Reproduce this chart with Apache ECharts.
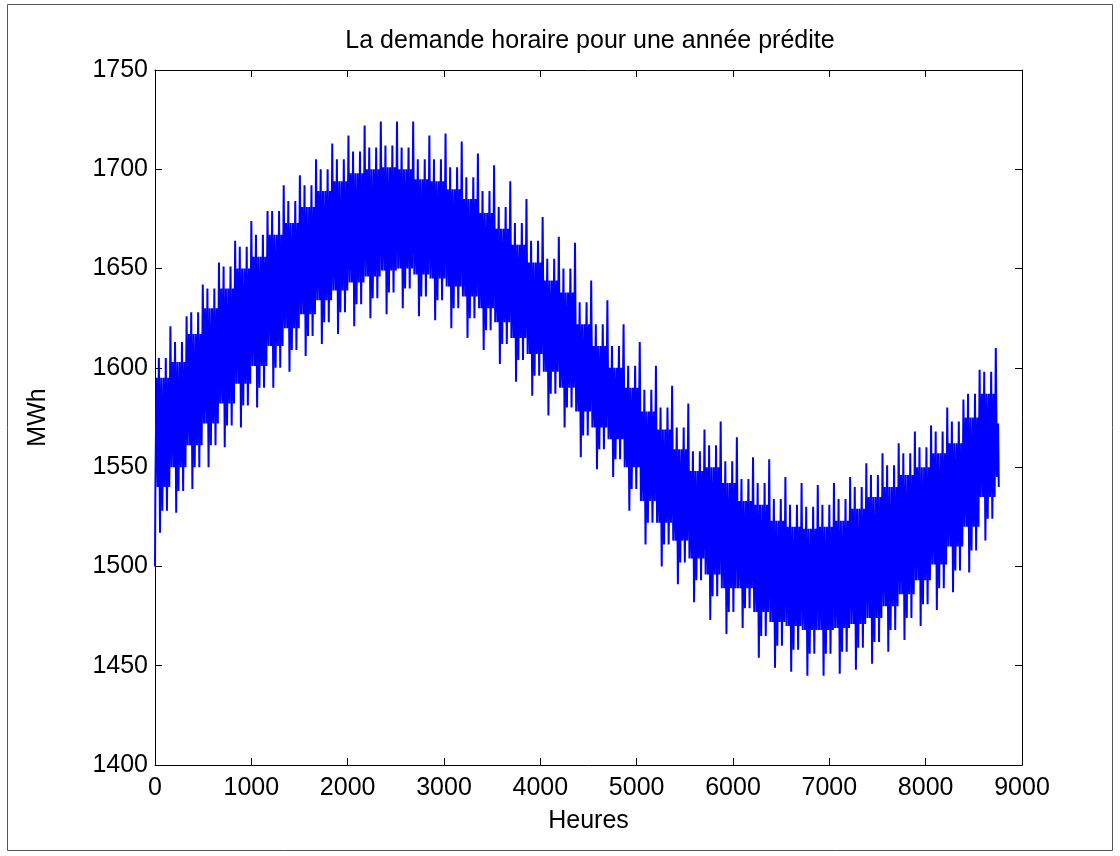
<!DOCTYPE html>
<html>
<head>
<meta charset="utf-8">
<script src="https://cdn.jsdelivr.net/npm/echarts@6/dist/echarts.min.js"></script>
<style>
html,body{margin:0;padding:0;background:#fff;}
#chart{width:1120px;height:856px;}
</style>
</head>
<body>
<div id="chart"></div>
<script>
// ---- Data (MWh), one entry per week ----
const titleText = 'La demande horaire pour une année prédite';
const xName = 'Heures';
const yName = 'MWh';
const xTickValues = [0, 1000, 2000, 3000, 4000, 5000, 6000, 7000, 8000, 9000];
const yTickValues = [1400, 1450, 1500, 1550, 1600, 1650, 1700, 1750];

const startValue = 1500;           // first hour
// weekly highest spike
const weekPeak = [1621,1626,1642,1653,1664,1674,1679,1692,1697,1705,1713,1717,1722,1724,1724,1724,1717,1718,1714,1708,1702,1694,1685,1676,1666,1663,1644,1634,1622,1613,1601,1591,1582,1569,1573,1565,1555,1554,1545,1542,1541,1542,1545,1552,1557,1562,1568,1571,1580,1584,1599,1610];
// weekly secondary high spike
const weekHigh2 = [1605,1613,1628,1640,1651,1661,1667,1679,1684,1692,1700,1705,1709,1711,1712,1711,1705,1705,1701,1696,1689,1681,1673,1664,1655,1650,1633,1622,1611,1601,1589,1580,1570,1558,1561,1553,1544,1542,1534,1531,1530,1531,1534,1540,1546,1551,1557,1560,1568,1573,1587,1598];
// weekly usual daily high
const weekHigh = [1595,1603,1617,1630,1640,1650,1656,1667,1673,1681,1689,1694,1698,1700,1701,1700,1695,1694,1690,1685,1678,1670,1662,1653,1644,1638,1622,1611,1600,1590,1578,1569,1559,1548,1550,1542,1533,1531,1523,1520,1519,1520,1523,1529,1535,1540,1546,1550,1557,1562,1575,1587];
// weekly usual daily low
const weekLow = [1540,1550,1561,1572,1582,1592,1601,1611,1620,1627,1634,1639,1643,1646,1649,1650,1647,1645,1641,1636,1630,1623,1615,1607,1598,1590,1578,1570,1564,1550,1533,1522,1513,1504,1496,1489,1489,1477,1472,1470,1468,1468,1469,1471,1474,1480,1486,1493,1501,1510,1520,1535];
// weekly secondary low
const weekLow2 = [1528,1538,1550,1561,1571,1581,1590,1600,1609,1616,1623,1628,1632,1635,1638,1640,1636,1634,1630,1625,1619,1612,1604,1596,1587,1580,1566,1559,1554,1539,1522,1511,1502,1493,1485,1477,1479,1465,1460,1458,1456,1456,1457,1459,1462,1468,1474,1481,1489,1498,1508,1524];
// weekly deepest trough
const weekTrough = [1517,1527,1539,1550,1560,1570,1580,1590,1598,1606,1612,1617,1621,1625,1627,1630,1626,1624,1620,1615,1609,1602,1593,1586,1576,1570,1555,1549,1545,1528,1511,1500,1491,1482,1473,1466,1469,1454,1449,1447,1445,1445,1446,1448,1451,1457,1463,1470,1478,1487,1497,1513];
// last partial day
const tailHours = [8740, 8752, 8759];
const tailValues = [1545, 1572, 1540];

// ---- Which weekly reading each day of the week uses ----
const dayHighs = [weekHigh, weekHigh2, weekHigh, weekHigh, weekHigh2, weekHigh, weekPeak];
const dayLows  = [weekLow, weekLow, weekTrough, weekLow2, weekLow, weekLow2, weekLow];

const series = [[0, startValue]];
for (let k = 0; k < weekPeak.length; k++) {
  for (let d = 0; d < 7; d++) {
    const base = 168 * k + 24 * d;
    series.push([base + 4, dayLows[d][k]]);
    series.push([base + 16, dayHighs[d][k]]);
  }
}
tailHours.forEach((h, i) => series.push([h, tailValues[i]]));

const FONT = "'Liberation Sans', Arial, Helvetica, sans-serif";
const FS = 25;

const chart = echarts.init(document.getElementById('chart'), null, {renderer: 'canvas'});

const baseAxisLine = {show: true, onZero: false, lineStyle: {color: '#000', width: 1}};
const baseTick = {show: true, inside: true, length: 7, lineStyle: {color: '#000', width: 1}};
const plain = v => String(v);

chart.setOption({
  animation: false,
  backgroundColor: '#ffffff',
  grid: {left: 155, right: 98, top: 70, bottom: 91, containLabel: false},
  graphic: [
    {type: 'rect', shape: {x: 7.5, y: 4.5, width: 1105, height: 846},
     style: {fill: 'none', stroke: '#555', lineWidth: 1}, silent: true},
    {type: 'text', x: 590, y: 41,
     style: {text: titleText, fill: '#000', font: FS + 'px ' + FONT, textAlign: 'center', textVerticalAlign: 'middle'}}
  ],
  xAxis: [
    {
      type: 'value', min: xTickValues[0], max: xTickValues[xTickValues.length - 1], interval: 1000,
      position: 'bottom',
      axisLine: baseAxisLine, axisTick: baseTick,
      axisLabel: {color: '#000', fontSize: FS, fontFamily: FONT, margin: 11, formatter: plain},
      splitLine: {show: false},
      name: xName, nameLocation: 'middle', nameGap: 44,
      nameTextStyle: {color: '#000', fontSize: FS, fontFamily: FONT}
    },
    {
      type: 'value', min: xTickValues[0], max: xTickValues[xTickValues.length - 1], interval: 1000,
      position: 'top',
      axisLine: baseAxisLine, axisTick: baseTick,
      axisLabel: {show: false}, splitLine: {show: false}
    }
  ],
  yAxis: [
    {
      type: 'value', min: yTickValues[0], max: yTickValues[yTickValues.length - 1], interval: 50,
      position: 'left',
      axisLine: baseAxisLine, axisTick: baseTick,
      axisLabel: {color: '#000', fontSize: FS, fontFamily: FONT, margin: 7, formatter: plain},
      splitLine: {show: false},
      name: yName, nameLocation: 'middle', nameGap: 104, nameRotate: 90,
      nameTextStyle: {color: '#000', fontSize: FS, fontFamily: FONT}
    },
    {
      type: 'value', min: yTickValues[0], max: yTickValues[yTickValues.length - 1], interval: 50,
      position: 'right',
      axisLine: baseAxisLine, axisTick: baseTick,
      axisLabel: {show: false}, splitLine: {show: false}
    }
  ],
  series: [{
    type: 'line',
    xAxisIndex: 0, yAxisIndex: 0,
    data: series,
    showSymbol: false, symbol: 'none',
    sampling: null,
    progressive: 0,
    lineStyle: {color: '#0000ff', width: 2},
    z: 1
  }]
});
</script>
</body>
</html>
